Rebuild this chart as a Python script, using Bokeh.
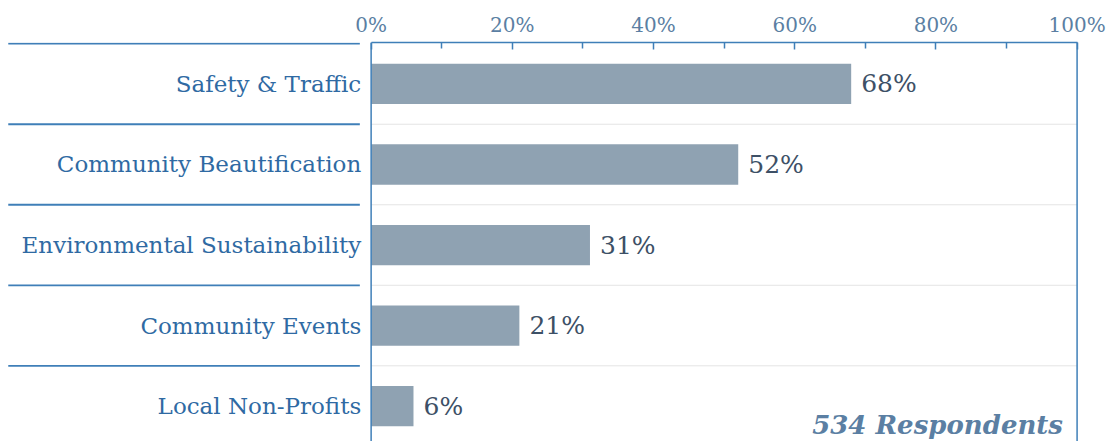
from bokeh.plotting import figure
from bokeh.models import Range1d, LinearAxis, FixedTicker, Span, Label
from bokeh.core.properties import value
from bokeh.embed import file_html
from bokeh.resources import INLINE

categories = ["Safety & Traffic", "Community Beautification", "Environmental Sustainability",
              "Community Events", "Local Non-Profits"]
values = [68, 52, 31, 21, 6]
tick_values = [0, 20, 40, 60, 80, 100]
tick_labels = ["0%", "20%", "40%", "60%", "80%", "100%"]
minor_tick_values = [10, 30, 50, 70, 90]
note = "534 Respondents"

rows = [i + 0.5 for i in range(len(categories))]
bounds_y = [i for i in range(len(categories))]
value_labels = [f"{v}%" for v in values]

BLUE = "#3f7fb8"
FONT = "DejaVu Serif"

p = figure(width=1111, height=441, x_range=Range1d(-52.5, 100.2), y_range=Range1d(4.94, -0.015),
           toolbar_location=None, output_backend="svg",
           x_axis_location=None, y_axis_location=None,
           min_border_left=0, min_border_right=33, min_border_top=42, min_border_bottom=0,
           outline_line_color=None, background_fill_color="white", border_fill_color="white")
p.grid.visible = False

axis = LinearAxis(ticker=FixedTicker(ticks=tick_values, minor_ticks=minor_tick_values),
                  bounds=(0, 100),
                  axis_line_color=BLUE, axis_line_width=1.5,
                  major_tick_in=7, major_tick_out=0, minor_tick_in=6, minor_tick_out=0,
                  major_tick_line_color=BLUE, minor_tick_line_color=BLUE,
                  major_tick_line_width=1.5, minor_tick_line_width=1.5,
                  major_label_text_font=FONT, major_label_text_font_size="20px",
                  major_label_text_color="#5b7fa3", major_label_standoff=6,
                  major_label_overrides={t: l for t, l in zip(tick_values, tick_labels)})
p.add_layout(axis, "above")

# faint row gridlines inside plot
p.segment(x0=0, x1=100, y0=bounds_y[1:], y1=bounds_y[1:], line_color="#e4e4e4", line_width=1)

# separators in label area
p.segment(x0=-51.4, x1=-1.6, y0=bounds_y, y1=bounds_y, line_color=BLUE, line_width=1.8)

p.add_layout(Span(location=0, dimension="height", line_color=BLUE, line_width=1.5))
p.add_layout(Span(location=100, dimension="height", line_color=BLUE, line_width=1.5))

p.hbar(y=rows, right=values, left=0, height=0.5, fill_color="#8fa2b2", line_color=None)

p.text(x=-1.4, y=rows, text=categories, text_align="right", text_baseline="middle",
       text_font=value(FONT), text_font_size="23px", text_color="#2f6aa3")

p.text(x=values, y=rows, text=value_labels, x_offset=10, text_align="left", text_baseline="middle",
       text_font=value(FONT), text_font_size="25px", text_color="#3d5066")

p.add_layout(Label(x=98, y=4.74, text=note, text_align="right", text_baseline="alphabetic",
                   text_font=FONT, text_font_style="bold italic", text_font_size="26px",
                   text_color="#5b7fa3"))

open("out.html", "w").write(file_html(p, INLINE))
